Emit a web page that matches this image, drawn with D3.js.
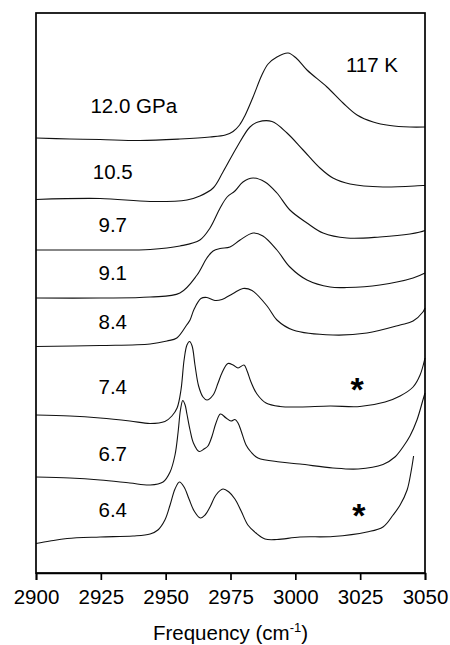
<!DOCTYPE html>
<html>
<head>
<meta charset="utf-8">
<script src="https://cdn.jsdelivr.net/npm/d3@7"></script>
<style>
  html, body { margin: 0; padding: 0; background: #fff; }
  svg { display: block; }
  text { font-family: "Liberation Sans", Arial, sans-serif; fill: #000; }
</style>
</head>
<body>
<svg id="chart" width="450" height="645"></svg>
<script>
// ---- data (frequency in cm-1, intensity in arbitrary units incl. vertical offset) ----
const pressures = ["12.0", "10.5", "9.7", "9.1", "8.4", "7.4", "6.7", "6.4"];
const pressureLabels = ["12.0 GPa", "10.5", "9.7", "9.1", "8.4", "7.4", "6.7", "6.4"];
const labelLevels = [460, 394.5, 341.5, 293.5, 244.5, 179.5, 112, 56.5];

const s120 = [[2900,435],[2913.1,434],[2924.7,433.5],[2940.1,432.5],[2955.5,434],[2967.1,436],[2973.0,438],[2976.0,441.5],[2978.5,448],[2980.5,457],[2983.7,476],[2987.1,498],[2989.5,509],[2992.9,516],[2997.2,520],[3000.3,515],[3004.5,503],[3012.2,486],[3018.4,470],[3023.8,458],[3030.0,451],[3036.5,447.5],[3044.2,446],[3050,446]];
const s105 = [[2900,373.5],[2924.7,374.5],[2944.0,371.5],[2958.2,373],[2963.2,377],[2968.3,385],[2972.1,401],[2977.5,426],[2982.5,446],[2985.6,451],[2991.0,451.5],[2996.8,440],[3003.0,423],[3009.5,405],[3014.5,395],[3021.1,389],[3033.8,386],[3049.2,387.5],[3050,387.5]];
const s97 = [[2900,323],[2924.7,323],[2944.0,323.5],[2955.5,327],[2963.2,333],[2967.1,345],[2971.0,365],[2973.7,376],[2976.7,382],[2979.8,391],[2983.7,395],[2988.3,391],[2992.9,380],[2997.9,363],[3004.5,350],[3010.7,340],[3019.9,335],[3032.6,336],[3044.2,339],[3050,342.5]];
const s91 = [[2900,275],[2924.7,275],[2944.0,276],[2955.5,280],[2962.1,298],[2965.9,315],[2968.3,322],[2971.0,324.5],[2974.8,326],[2978.7,333],[2983.7,340],[2987.5,337],[2992.9,323],[2997.9,306],[3004.5,293],[3013.4,286],[3019.9,285.5],[3032.6,288],[3045.4,295],[3050,300]];
const s84 = [[2900,226.5],[2924.7,227.5],[2944.0,229],[2950.5,232],[2954.3,235],[2958.1,248],[2959.4,253],[2961.0,264],[2963.6,274.5],[2965.9,275.5],[2969.0,272.5],[2971.7,273.5],[2976.0,279.5],[2979.8,284.5],[2983.3,282.5],[2989.1,267],[2992.9,253],[2999.1,243],[3014.5,238],[3027.6,240],[3040.4,248],[3045.4,252],[3049.2,261],[3050,265]];
const s74 = [[2900,158],[2913.1,157],[2924.7,155],[2936.2,152],[2944.0,149.5],[2949.7,151.5],[2952.4,157],[2954.4,165],[2955.9,183],[2957.1,213],[2958.2,228],[2959.2,231.5],[2960.2,227],[2961.3,208],[2962.7,187],[2964.4,176],[2965.9,173],[2968.3,178],[2970.2,190],[2971.7,200],[2974.0,209.5],[2976.0,208],[2977.9,205],[2980.2,208],[2981.4,202],[2982.9,191],[2985.2,179],[2988.7,170],[2994.1,166.5],[3001.8,166],[3013.4,167],[3024.9,166.5],[3034.6,171],[3040.4,177],[3045.4,186],[3048.1,198],[3050,215]];
const s67 = [[2900,96],[2913.1,95],[2924.7,93],[2936.2,90],[2944.0,88],[2949.0,91],[2951.7,101],[2953.6,118],[2954.8,141],[2955.7,163],[2956.6,172.5],[2957.5,168],[2958.2,159],[2959.4,143],[2960.7,130],[2962.9,121.5],[2964.8,124],[2966.3,127],[2967.9,137],[2969.4,150],[2971.1,159],[2973.3,155],[2975.2,152],[2976.7,153.5],[2977.9,150],[2979.1,142],[2981.0,128],[2982.9,121],[2985.6,115],[2994.1,111],[3001.8,109],[3014.5,105],[3024.2,104],[3033.8,108.5],[3038.4,116],[3041.5,126],[3044.2,137],[3046.9,153],[3049.2,173],[3050,180]];
const s64 = [[2900,29.5],[2905.4,32],[2912.0,34.5],[2924.7,36],[2937.4,37],[2944.0,39],[2947.0,43],[2949.7,53],[2951.7,68],[2953.6,84],[2955.3,91],[2957.1,86],[2959.0,74],[2961.0,62],[2963.4,55],[2965.2,58],[2967.1,66],[2969.4,78],[2972.1,84],[2974.4,81],[2976.7,74],[2979.1,62],[2981.7,48],[2984.8,40],[2988.3,34],[2992.9,33.5],[3001.8,36],[3014.5,36.5],[3027.6,41],[3033.8,46],[3037.7,58],[3040.4,68],[3043.1,83],[3044.6,101],[3045.6,117]];
const spectra = [s120, s105, s97, s91, s84, s74, s67, s64];

const xTicks = [2900, 2925, 2950, 2975, 3000, 3025, 3050];
const asteriskMarks = [[3023.8, 172], [3024.5, 46]];
const tempLabel = "117 K";
const xTitle = "Frequency (cm";

// ---- layout ----
const svg = d3.select("#chart");
const margin = {left: 36, right: 25, top: 13, bottom: 72};
const W = 450, H = 645;
const x = d3.scaleLinear().domain([2900, 3050]).range([margin.left, W - margin.right]);
const y = d3.scaleLinear().domain([0, 560]).range([H - margin.bottom, margin.top]);

// spectra
const line = d3.line().x(d => x(d[0])).y(d => y(d[1])).curve(d3.curveCatmullRom.alpha(0.5));
svg.append("g").selectAll("path").data(spectra).join("path")
  .attr("d", line)
  .attr("fill", "none")
  .attr("stroke", "#111")
  .attr("stroke-width", 1.1)
  .attr("stroke-linejoin", "round");

// frame
svg.append("rect")
  .attr("x", x(2900)).attr("y", y(560))
  .attr("width", x(3050) - x(2900)).attr("height", y(0) - y(560))
  .attr("fill", "none").attr("stroke", "#000").attr("stroke-width", 1.7);

// x axis
const ax = svg.append("g")
  .attr("transform", `translate(0,${y(0)})`)
  .call(d3.axisBottom(x).tickValues(xTicks).tickSize(7).tickPadding(9).tickFormat(d3.format("d")));
ax.select(".domain").attr("stroke", "#000").attr("stroke-width", 1.7);
ax.selectAll(".tick line").attr("stroke", "#000").attr("stroke-width", 1.7);
ax.selectAll(".tick text").attr("font-size", 20.5).attr("font-family", "Liberation Sans, Arial, sans-serif").attr("fill", "#000");

// axis title
const t = svg.append("text").attr("x", (x(2900) + x(3050)) / 2).attr("y", 640)
  .attr("text-anchor", "middle").attr("font-size", 20.5);
t.append("tspan").text(xTitle);
t.append("tspan").attr("font-size", 13).attr("dy", -8).text("-1");
t.append("tspan").attr("dy", 8).text(")");

// pressure labels
svg.append("g").selectAll("text").data(pressureLabels).join("text")
  .attr("x", (d, i) => i === 0 ? x(2921) : x(2929.6))
  .attr("y", (d, i) => y(labelLevels[i]))
  .attr("text-anchor", (d, i) => i === 0 ? "start" : "middle")
  .attr("font-size", 20.5)
  .text(d => d);

// temperature label
svg.append("text").attr("x", x(3019.5)).attr("y", y(501.5))
  .attr("font-size", 20.5).text(tempLabel);

// asterisks
svg.append("g").selectAll("text").data(asteriskMarks).join("text")
  .attr("x", d => x(d[0])).attr("y", d => y(d[1]))
  .attr("text-anchor", "middle")
  .attr("font-size", 34).attr("font-weight", "bold")
  .text("*");
</script>
</body>
</html>
